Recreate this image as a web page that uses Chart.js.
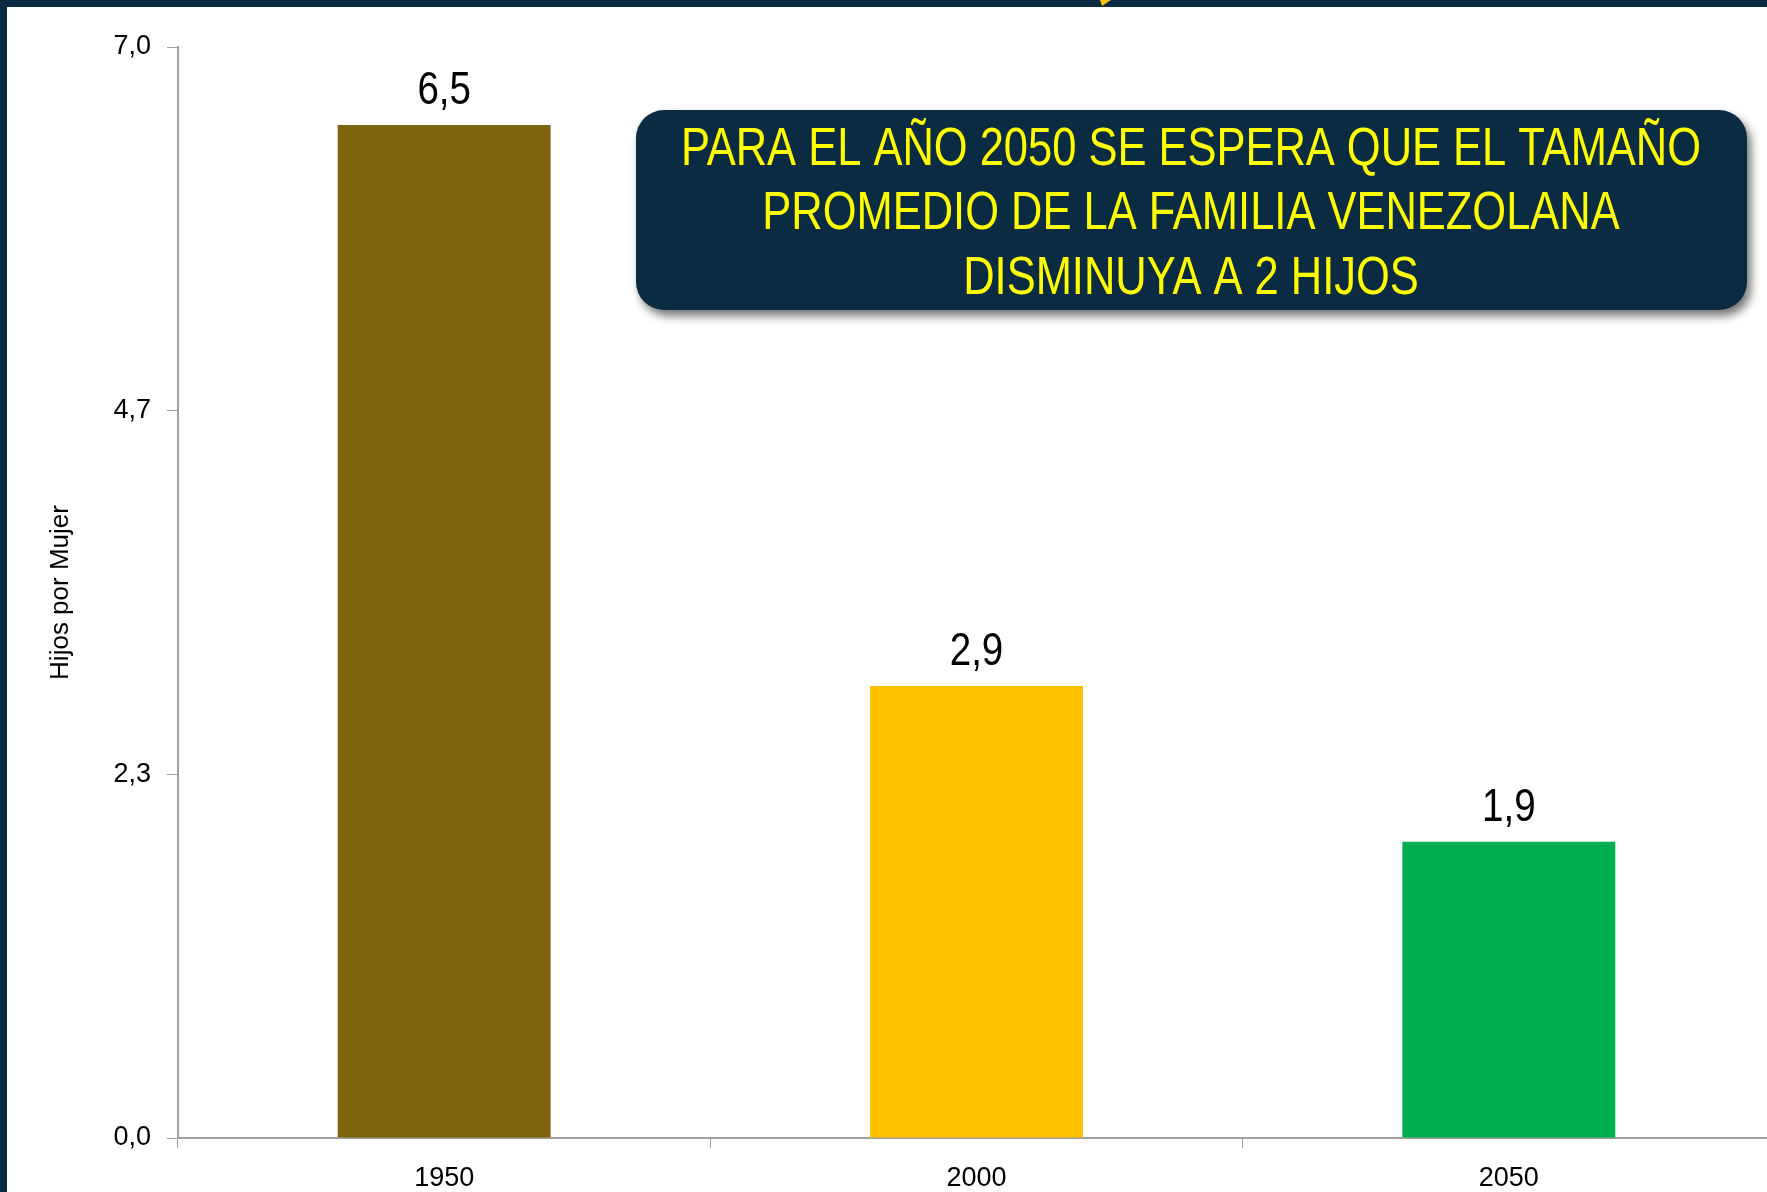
<!DOCTYPE html>
<html lang="es">
<head>
<meta charset="utf-8">
<title>Hijos por Mujer</title>
<script src="https://cdn.jsdelivr.net/npm/chart.js@4.4.1/dist/chart.umd.min.js"></script>
<style>
  html, body { margin: 0; padding: 0; background: #ffffff; overflow: hidden; }
  canvas { display: block; }
</style>
</head>
<body>
<canvas id="graficoHijos" width="1775" height="1200"></canvas>
<script>
// Datos del gráfico
const anios = ['1950', '2000', '2050'];
const hijosPorMujer = [6.5, 2.9, 1.9];
const coloresBarras = ['#7F6410', '#FFC000', '#00B050'];
const marcasEjeY = [0, 2.3333, 4.6667, 7];
const textoRecuadro = [
  'PARA EL AÑO 2050 SE ESPERA QUE EL TAMAÑO',
  'PROMEDIO DE LA FAMILIA VENEZOLANA',
  'DISMINUYA A 2 HIJOS'
];

const fuente = "'Liberation Sans Narrow', 'Arial Narrow', 'Liberation Sans', Arial, sans-serif";
const azulOscuro = '#0B2B42';
const gris = '#A0A0A0';
const estrecho = 0.82; // Arial Narrow = Arial comprimida

const coma = v => Number(v).toFixed(1).replace('.', ',');

// texto comprimido horizontalmente
function textoEstrecho(c, t, x, y) {
  c.save();
  c.translate(x, y);
  c.scale(estrecho, 1);
  c.fillText(t, 0, 0);
  c.restore();
}

// marco, valores sobre las barras y recuadro con el mensaje
const decoracion = {
  id: 'decoracion',
  afterDraw(chart) {
    const c = chart.ctx;
    c.save();

    // marco azul
    c.fillStyle = azulOscuro;
    c.fillRect(0, 0, chart.width, 7);
    c.fillRect(0, 0, 7, chart.height);
    c.fillStyle = '#FFC000';
    c.beginPath();
    c.moveTo(1100, 0); c.lineTo(1111, 0); c.lineTo(1102, 6);
    c.closePath();
    c.fill();

    // valores
    c.fillStyle = '#000000';
    c.font = `47px ${fuente}`;
    c.textAlign = 'center';
    c.textBaseline = 'alphabetic';
    chart.getDatasetMeta(0).data.forEach((bar, i) => {
      textoEstrecho(c, coma(hijosPorMujer[i]), bar.x, bar.y - 21);
    });

    // recuadro
    c.save();
    c.shadowColor = 'rgba(0, 0, 0, 0.55)';
    c.shadowBlur = 10;
    c.shadowOffsetX = 4;
    c.shadowOffsetY = 6;
    c.fillStyle = azulOscuro;
    c.beginPath();
    c.roundRect(636, 110, 1111, 200, 28);
    c.fill();
    c.restore();

    c.fillStyle = '#FFFF00';
    c.font = `53px ${fuente}`;
    c.textBaseline = 'middle';
    textoRecuadro.forEach((t, i) => textoEstrecho(c, t, 1191, 150 + i * 64.5));

    c.restore();
  }
};

const ctx = document.getElementById('graficoHijos').getContext('2d');
const grafico = new Chart(ctx, {
  type: 'bar',
  data: {
    labels: anios,
    datasets: [{
      data: hijosPorMujer,
      backgroundColor: coloresBarras,
      categoryPercentage: 1,
      barPercentage: 0.4
    }]
  },
  options: {
    responsive: false,
    animation: false,
    layout: {
      padding: { top: 47, left: 0, right: 0, bottom: 0 }
    },
    plugins: {
      legend: { display: false },
      tooltip: { enabled: false }
    },
    scales: {
      x: {
        grid: {
          drawOnChartArea: false,
          tickLength: 10,
          color: gris,
          offset: true
        },
        border: { color: gris, width: 2 },
        ticks: {
          color: '#000000',
          font: { family: fuente, size: 27 },
          padding: 14
        },
        afterFit(scale) { scale.height = 1200 - 1138; }
      },
      y: {
        min: 0,
        max: 7,
        afterBuildTicks(scale) {
          scale.ticks = marcasEjeY.map(v => ({ value: v }));
        },
        ticks: {
          color: '#000000',
          font: { family: fuente, size: 27 },
          padding: 16,
          callback: v => coma(v)
        },
        grid: {
          drawOnChartArea: false,
          tickLength: 11,
          color: gris
        },
        border: { color: gris, width: 2 },
        title: {
          display: true,
          text: 'Hijos por Mujer',
          color: '#000000',
          font: { family: fuente, size: 26 },
          padding: { top: 45, bottom: 0 }
        },
        afterFit(scale) { scale.width = 178; }
      }
    }
  },
  plugins: [decoracion]
});
</script>
</body>
</html>
